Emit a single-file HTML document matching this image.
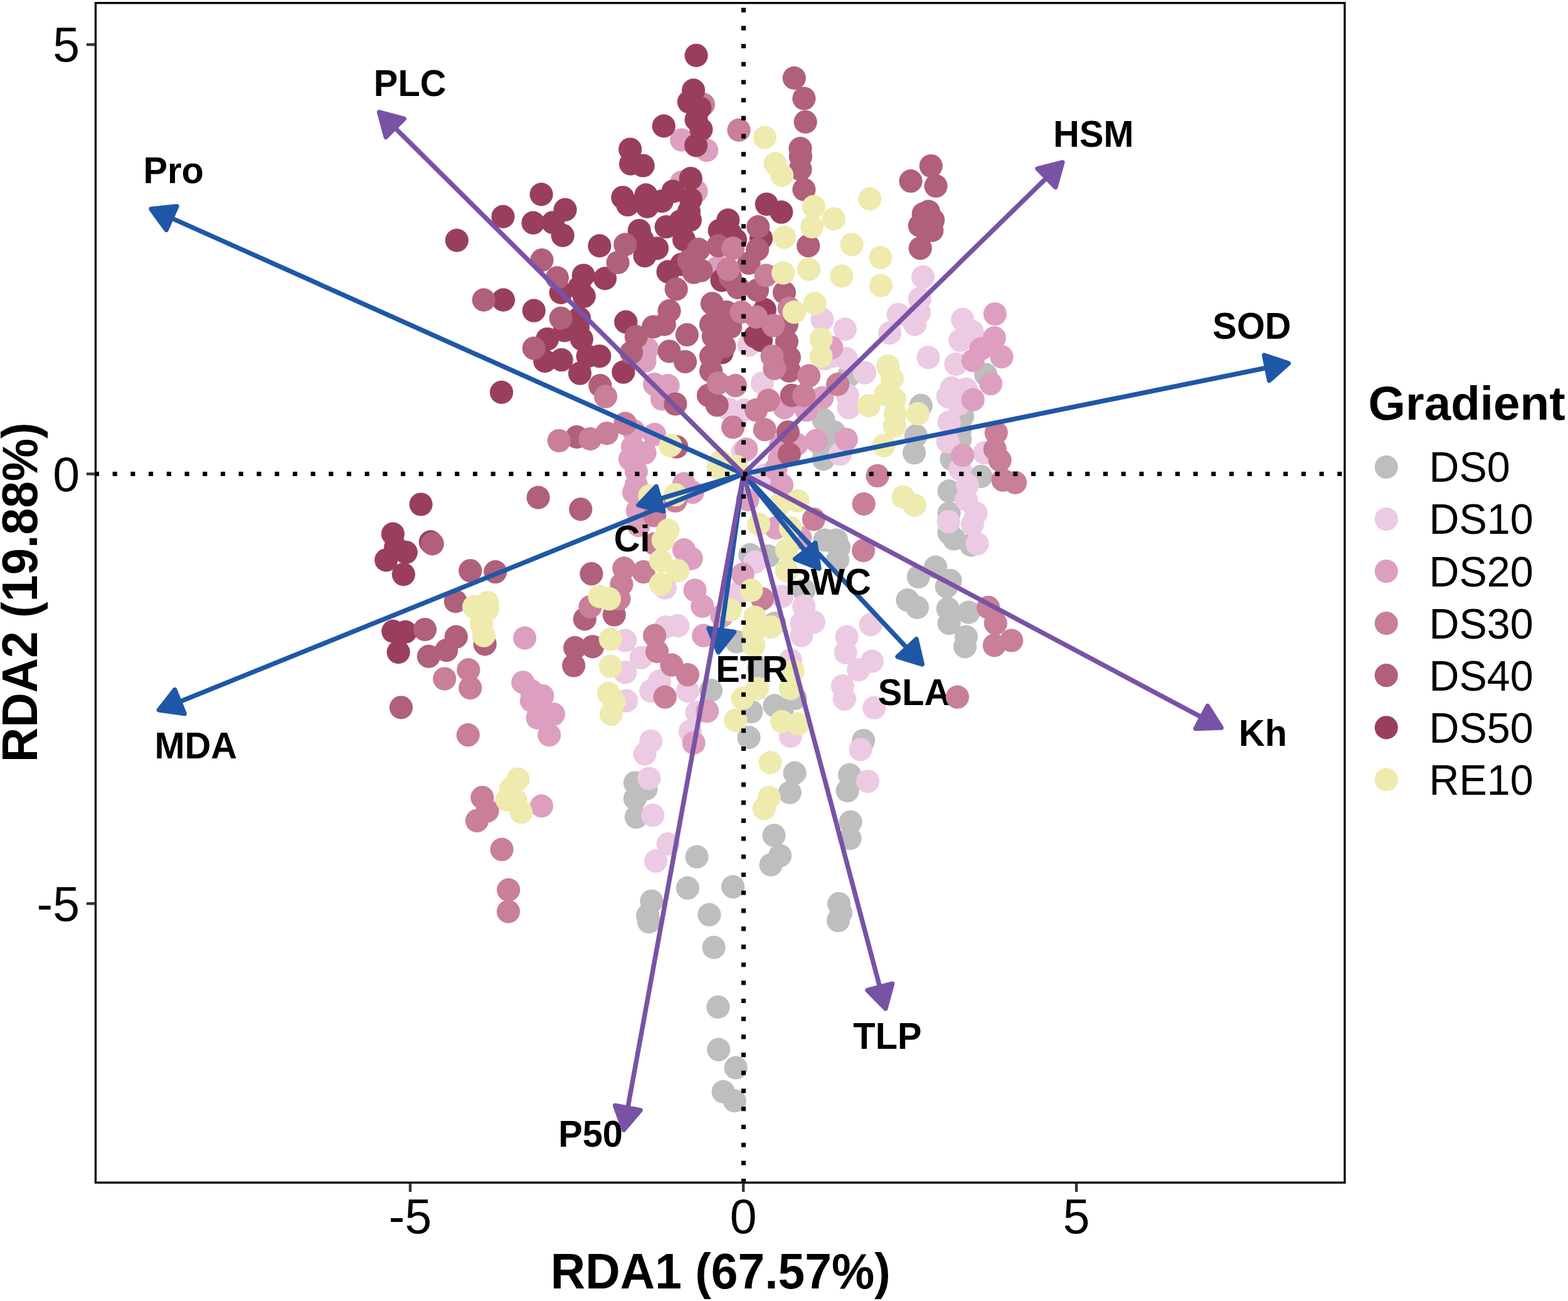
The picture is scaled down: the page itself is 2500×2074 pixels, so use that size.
<!DOCTYPE html><html><head><meta charset="utf-8"><title>RDA biplot</title><style>html,body{margin:0;padding:0;background:#fff;overflow:hidden;}svg{display:block;}text{font-family:"Liberation Sans",Arial,sans-serif;}</style></head><body>
<svg width="2500" height="2074" viewBox="0 0 2500 2074">
<rect width="2500" height="2074" fill="#fff"/>
<g>
<circle cx="1121.4" cy="166.4" r="18.6" fill="#c97e99"/>
<circle cx="1313" cy="669.3" r="18.6" fill="#bebebe"/>
<circle cx="1311" cy="712.3" r="18.6" fill="#bebebe"/>
<circle cx="1313" cy="731.8" r="18.6" fill="#bebebe"/>
<circle cx="1353.2" cy="599.1" r="18.6" fill="#bebebe"/>
<circle cx="1329.8" cy="688.8" r="18.6" fill="#bebebe"/>
<circle cx="1468.3" cy="646.3" r="18.6" fill="#bebebe"/>
<circle cx="1460.5" cy="694.7" r="18.6" fill="#bebebe"/>
<circle cx="1457.6" cy="722" r="18.6" fill="#bebebe"/>
<circle cx="1571.8" cy="597.1" r="18.6" fill="#bebebe"/>
<circle cx="1534.7" cy="663.5" r="18.6" fill="#bebebe"/>
<circle cx="1530.8" cy="684.9" r="18.6" fill="#bebebe"/>
<circle cx="1530.8" cy="700.5" r="18.6" fill="#bebebe"/>
<circle cx="1517.1" cy="731.8" r="18.6" fill="#bebebe"/>
<circle cx="1314.9" cy="861" r="18.6" fill="#bebebe"/>
<circle cx="1195.9" cy="884.4" r="18.6" fill="#bebebe"/>
<circle cx="1225.2" cy="886.4" r="18.6" fill="#bebebe"/>
<circle cx="1281.8" cy="941" r="18.6" fill="#bebebe"/>
<circle cx="1234.9" cy="993.7" r="18.6" fill="#bebebe"/>
<circle cx="1174.4" cy="1023" r="18.6" fill="#bebebe"/>
<circle cx="1209.6" cy="1064" r="18.6" fill="#bebebe"/>
<circle cx="1513.2" cy="782.9" r="18.6" fill="#bebebe"/>
<circle cx="1513.2" cy="818.1" r="18.6" fill="#bebebe"/>
<circle cx="1513.2" cy="849.3" r="18.6" fill="#bebebe"/>
<circle cx="1521" cy="859" r="18.6" fill="#bebebe"/>
<circle cx="1548.3" cy="868.8" r="18.6" fill="#bebebe"/>
<circle cx="1564" cy="759.5" r="18.6" fill="#bebebe"/>
<circle cx="1333.7" cy="861" r="18.6" fill="#bebebe"/>
<circle cx="1337.6" cy="872.7" r="18.6" fill="#bebebe"/>
<circle cx="1335.6" cy="892.2" r="18.6" fill="#bebebe"/>
<circle cx="1464.4" cy="919.5" r="18.6" fill="#bebebe"/>
<circle cx="1491.7" cy="903.9" r="18.6" fill="#bebebe"/>
<circle cx="1515.2" cy="925.4" r="18.6" fill="#bebebe"/>
<circle cx="1509.3" cy="935.2" r="18.6" fill="#bebebe"/>
<circle cx="1446.9" cy="956.6" r="18.6" fill="#bebebe"/>
<circle cx="1462.5" cy="968.3" r="18.6" fill="#bebebe"/>
<circle cx="1511.3" cy="970.3" r="18.6" fill="#bebebe"/>
<circle cx="1544.4" cy="976.1" r="18.6" fill="#bebebe"/>
<circle cx="1513.2" cy="993.7" r="18.6" fill="#bebebe"/>
<circle cx="1540.5" cy="1015.2" r="18.6" fill="#bebebe"/>
<circle cx="1538.6" cy="1030.8" r="18.6" fill="#bebebe"/>
<circle cx="1133.5" cy="1100.5" r="18.6" fill="#bebebe"/>
<circle cx="1012.5" cy="1247.8" r="18.6" fill="#bebebe"/>
<circle cx="1030" cy="1257.6" r="18.6" fill="#bebebe"/>
<circle cx="1012.5" cy="1273.2" r="18.6" fill="#bebebe"/>
<circle cx="1014.4" cy="1302.5" r="18.6" fill="#bebebe"/>
<circle cx="1111" cy="1365.9" r="18.6" fill="#bebebe"/>
<circle cx="1096.4" cy="1415.7" r="18.6" fill="#bebebe"/>
<circle cx="1168.6" cy="1413.7" r="18.6" fill="#bebebe"/>
<circle cx="1197.9" cy="1134.6" r="18.6" fill="#bebebe"/>
<circle cx="1194" cy="1175.6" r="18.6" fill="#bebebe"/>
<circle cx="1234.9" cy="1124.9" r="18.6" fill="#bebebe"/>
<circle cx="1246.6" cy="1134.6" r="18.6" fill="#bebebe"/>
<circle cx="1268.1" cy="1113.2" r="18.6" fill="#bebebe"/>
<circle cx="1267.1" cy="1232.2" r="18.6" fill="#bebebe"/>
<circle cx="1259.3" cy="1263.5" r="18.6" fill="#bebebe"/>
<circle cx="1234" cy="1331.8" r="18.6" fill="#bebebe"/>
<circle cx="1243.7" cy="1364" r="18.6" fill="#bebebe"/>
<circle cx="1229.1" cy="1378.6" r="18.6" fill="#bebebe"/>
<circle cx="1376.6" cy="1180.5" r="18.6" fill="#bebebe"/>
<circle cx="1354.7" cy="1235.2" r="18.6" fill="#bebebe"/>
<circle cx="1351.2" cy="1260.5" r="18.6" fill="#bebebe"/>
<circle cx="1356.1" cy="1310.3" r="18.6" fill="#bebebe"/>
<circle cx="1355.1" cy="1336.6" r="18.6" fill="#bebebe"/>
<circle cx="1038.9" cy="1436.5" r="18.6" fill="#bebebe"/>
<circle cx="1032.7" cy="1459.3" r="18.6" fill="#bebebe"/>
<circle cx="1034.7" cy="1469.6" r="18.6" fill="#bebebe"/>
<circle cx="1130.9" cy="1458.2" r="18.6" fill="#bebebe"/>
<circle cx="1138.1" cy="1510.3" r="18.6" fill="#bebebe"/>
<circle cx="1144.9" cy="1605.4" r="18.6" fill="#bebebe"/>
<circle cx="1145.7" cy="1673.2" r="18.6" fill="#bebebe"/>
<circle cx="1173.2" cy="1702.1" r="18.6" fill="#bebebe"/>
<circle cx="1153.2" cy="1740.4" r="18.6" fill="#bebebe"/>
<circle cx="1171.2" cy="1754.8" r="18.6" fill="#bebebe"/>
<circle cx="1337.6" cy="1440.7" r="18.6" fill="#bebebe"/>
<circle cx="1340.7" cy="1455.1" r="18.6" fill="#bebebe"/>
<circle cx="1336.5" cy="1467.5" r="18.6" fill="#bebebe"/>
<circle cx="1311" cy="509.3" r="18.6" fill="#eccae3"/>
<circle cx="1194" cy="550.3" r="18.6" fill="#eccae3"/>
<circle cx="1314.9" cy="571.7" r="18.6" fill="#eccae3"/>
<circle cx="1215.4" cy="610.8" r="18.6" fill="#eccae3"/>
<circle cx="1184.2" cy="720.1" r="18.6" fill="#eccae3"/>
<circle cx="1160.8" cy="651.8" r="18.6" fill="#eccae3"/>
<circle cx="1186.1" cy="653.7" r="18.6" fill="#eccae3"/>
<circle cx="1471.6" cy="441.6" r="18.6" fill="#eccae3"/>
<circle cx="1466.4" cy="476.1" r="18.6" fill="#eccae3"/>
<circle cx="1465.4" cy="498.6" r="18.6" fill="#eccae3"/>
<circle cx="1432.2" cy="501.5" r="18.6" fill="#eccae3"/>
<circle cx="1458.6" cy="517.1" r="18.6" fill="#eccae3"/>
<circle cx="1418.6" cy="530.8" r="18.6" fill="#eccae3"/>
<circle cx="1347.3" cy="524.9" r="18.6" fill="#eccae3"/>
<circle cx="1349.3" cy="571.7" r="18.6" fill="#eccae3"/>
<circle cx="1327.8" cy="567.8" r="18.6" fill="#eccae3"/>
<circle cx="1378.5" cy="594.2" r="18.6" fill="#eccae3"/>
<circle cx="1351.2" cy="630.3" r="18.6" fill="#eccae3"/>
<circle cx="1353.2" cy="649.8" r="18.6" fill="#eccae3"/>
<circle cx="1339.5" cy="724" r="18.6" fill="#eccae3"/>
<circle cx="1480" cy="569.8" r="18.6" fill="#eccae3"/>
<circle cx="1534.7" cy="509.3" r="18.6" fill="#eccae3"/>
<circle cx="1550.3" cy="528.8" r="18.6" fill="#eccae3"/>
<circle cx="1530.8" cy="542.5" r="18.6" fill="#eccae3"/>
<circle cx="1523.9" cy="580.5" r="18.6" fill="#eccae3"/>
<circle cx="1517.1" cy="618.6" r="18.6" fill="#eccae3"/>
<circle cx="1540.5" cy="620.5" r="18.6" fill="#eccae3"/>
<circle cx="1511.3" cy="632.2" r="18.6" fill="#eccae3"/>
<circle cx="1528.8" cy="644" r="18.6" fill="#eccae3"/>
<circle cx="1513.2" cy="673.2" r="18.6" fill="#eccae3"/>
<circle cx="1511.3" cy="704.4" r="18.6" fill="#eccae3"/>
<circle cx="1569.8" cy="722" r="18.6" fill="#eccae3"/>
<circle cx="1060.3" cy="937.1" r="18.6" fill="#eccae3"/>
<circle cx="1061.2" cy="999.6" r="18.6" fill="#eccae3"/>
<circle cx="1080.8" cy="997.6" r="18.6" fill="#eccae3"/>
<circle cx="996.8" cy="1021" r="18.6" fill="#eccae3"/>
<circle cx="1022.2" cy="1048.4" r="18.6" fill="#eccae3"/>
<circle cx="996.8" cy="1071.8" r="18.6" fill="#eccae3"/>
<circle cx="1219.3" cy="757.6" r="18.6" fill="#eccae3"/>
<circle cx="1203.7" cy="896.1" r="18.6" fill="#eccae3"/>
<circle cx="1178.3" cy="944.9" r="18.6" fill="#eccae3"/>
<circle cx="1246.6" cy="950.8" r="18.6" fill="#eccae3"/>
<circle cx="1281.8" cy="966.4" r="18.6" fill="#eccae3"/>
<circle cx="1277.9" cy="993.7" r="18.6" fill="#eccae3"/>
<circle cx="1297.4" cy="991.8" r="18.6" fill="#eccae3"/>
<circle cx="1277.9" cy="1013.2" r="18.6" fill="#eccae3"/>
<circle cx="1260.3" cy="1052.3" r="18.6" fill="#eccae3"/>
<circle cx="1530.8" cy="747.8" r="18.6" fill="#eccae3"/>
<circle cx="1542.5" cy="773.2" r="18.6" fill="#eccae3"/>
<circle cx="1540.5" cy="796.6" r="18.6" fill="#eccae3"/>
<circle cx="1556.1" cy="818.1" r="18.6" fill="#eccae3"/>
<circle cx="1512.2" cy="831.7" r="18.6" fill="#eccae3"/>
<circle cx="1550.3" cy="835.6" r="18.6" fill="#eccae3"/>
<circle cx="1558.1" cy="866.9" r="18.6" fill="#eccae3"/>
<circle cx="1388.3" cy="995.7" r="18.6" fill="#eccae3"/>
<circle cx="1350.2" cy="1015.2" r="18.6" fill="#eccae3"/>
<circle cx="1348.3" cy="1040.5" r="18.6" fill="#eccae3"/>
<circle cx="1390.3" cy="1054.2" r="18.6" fill="#eccae3"/>
<circle cx="1368.8" cy="1067.9" r="18.6" fill="#eccae3"/>
<circle cx="998.8" cy="1117.1" r="18.6" fill="#eccae3"/>
<circle cx="1037.8" cy="1101.5" r="18.6" fill="#eccae3"/>
<circle cx="1051.5" cy="1085.9" r="18.6" fill="#eccae3"/>
<circle cx="1096.4" cy="1101.5" r="18.6" fill="#eccae3"/>
<circle cx="1111" cy="1135.6" r="18.6" fill="#eccae3"/>
<circle cx="1100.3" cy="1165.9" r="18.6" fill="#eccae3"/>
<circle cx="1037.8" cy="1181.5" r="18.6" fill="#eccae3"/>
<circle cx="1028.1" cy="1202" r="18.6" fill="#eccae3"/>
<circle cx="1034.9" cy="1241" r="18.6" fill="#eccae3"/>
<circle cx="1040.7" cy="1299.6" r="18.6" fill="#eccae3"/>
<circle cx="1065.1" cy="1345.4" r="18.6" fill="#eccae3"/>
<circle cx="1045.6" cy="1372.7" r="18.6" fill="#eccae3"/>
<circle cx="1260.3" cy="1173.7" r="18.6" fill="#eccae3"/>
<circle cx="1343.4" cy="1093.7" r="18.6" fill="#eccae3"/>
<circle cx="1346.3" cy="1114.2" r="18.6" fill="#eccae3"/>
<circle cx="1393.8" cy="1128.4" r="18.6" fill="#eccae3"/>
<circle cx="1372.1" cy="1194.8" r="18.6" fill="#eccae3"/>
<circle cx="1383.6" cy="1245.5" r="18.6" fill="#eccae3"/>
<circle cx="1086.7" cy="223" r="18.6" fill="#dd9fbf"/>
<circle cx="1126.7" cy="239.6" r="18.6" fill="#dd9fbf"/>
<circle cx="1086.7" cy="290.4" r="18.6" fill="#dd9fbf"/>
<circle cx="1110.1" cy="305" r="18.6" fill="#dd9fbf"/>
<circle cx="1145.2" cy="425.4" r="18.6" fill="#dd9fbf"/>
<circle cx="1250.5" cy="649.8" r="18.6" fill="#dd9fbf"/>
<circle cx="1285.7" cy="653.7" r="18.6" fill="#dd9fbf"/>
<circle cx="1311" cy="634.2" r="18.6" fill="#dd9fbf"/>
<circle cx="1301.3" cy="702.5" r="18.6" fill="#dd9fbf"/>
<circle cx="1244.7" cy="710.3" r="18.6" fill="#dd9fbf"/>
<circle cx="1242.7" cy="731.8" r="18.6" fill="#dd9fbf"/>
<circle cx="1270.1" cy="708.4" r="18.6" fill="#dd9fbf"/>
<circle cx="1190" cy="716.2" r="18.6" fill="#dd9fbf"/>
<circle cx="1032" cy="556.1" r="18.6" fill="#dd9fbf"/>
<circle cx="1028.1" cy="575.6" r="18.6" fill="#dd9fbf"/>
<circle cx="1043.7" cy="612.7" r="18.6" fill="#dd9fbf"/>
<circle cx="1065.1" cy="614.7" r="18.6" fill="#dd9fbf"/>
<circle cx="1055.4" cy="636.1" r="18.6" fill="#dd9fbf"/>
<circle cx="1010.5" cy="686.9" r="18.6" fill="#dd9fbf"/>
<circle cx="1043.7" cy="692.7" r="18.6" fill="#dd9fbf"/>
<circle cx="1008.5" cy="712.3" r="18.6" fill="#dd9fbf"/>
<circle cx="1028.1" cy="722" r="18.6" fill="#dd9fbf"/>
<circle cx="1004.6" cy="731.8" r="18.6" fill="#dd9fbf"/>
<circle cx="1325.9" cy="554.2" r="18.6" fill="#dd9fbf"/>
<circle cx="1349.3" cy="700.5" r="18.6" fill="#dd9fbf"/>
<circle cx="1586.4" cy="500.5" r="18.6" fill="#dd9fbf"/>
<circle cx="1585.4" cy="538.6" r="18.6" fill="#dd9fbf"/>
<circle cx="1564" cy="556.1" r="18.6" fill="#dd9fbf"/>
<circle cx="1597.1" cy="568.8" r="18.6" fill="#dd9fbf"/>
<circle cx="1551.3" cy="574.7" r="18.6" fill="#dd9fbf"/>
<circle cx="1579.6" cy="611.7" r="18.6" fill="#dd9fbf"/>
<circle cx="1551.3" cy="637.1" r="18.6" fill="#dd9fbf"/>
<circle cx="1534.7" cy="725.9" r="18.6" fill="#dd9fbf"/>
<circle cx="836.6" cy="1017.1" r="18.6" fill="#dd9fbf"/>
<circle cx="1014.4" cy="751.7" r="18.6" fill="#dd9fbf"/>
<circle cx="1014.4" cy="773.2" r="18.6" fill="#dd9fbf"/>
<circle cx="1010.5" cy="784.9" r="18.6" fill="#dd9fbf"/>
<circle cx="1016.4" cy="814.2" r="18.6" fill="#dd9fbf"/>
<circle cx="1018.3" cy="837.6" r="18.6" fill="#dd9fbf"/>
<circle cx="1090.5" cy="771.2" r="18.6" fill="#dd9fbf"/>
<circle cx="1104.2" cy="784.9" r="18.6" fill="#dd9fbf"/>
<circle cx="1090.5" cy="876.6" r="18.6" fill="#dd9fbf"/>
<circle cx="1102.2" cy="890.3" r="18.6" fill="#dd9fbf"/>
<circle cx="1108.1" cy="941" r="18.6" fill="#dd9fbf"/>
<circle cx="1119.8" cy="966.4" r="18.6" fill="#dd9fbf"/>
<circle cx="1151" cy="982" r="18.6" fill="#dd9fbf"/>
<circle cx="1121.7" cy="1013.2" r="18.6" fill="#dd9fbf"/>
<circle cx="1236.9" cy="747.8" r="18.6" fill="#dd9fbf"/>
<circle cx="1246.6" cy="773.2" r="18.6" fill="#dd9fbf"/>
<circle cx="1192" cy="796.6" r="18.6" fill="#dd9fbf"/>
<circle cx="1236.9" cy="841.5" r="18.6" fill="#dd9fbf"/>
<circle cx="1275.9" cy="857.1" r="18.6" fill="#dd9fbf"/>
<circle cx="1184.2" cy="915.6" r="18.6" fill="#dd9fbf"/>
<circle cx="833.7" cy="1087.8" r="18.6" fill="#dd9fbf"/>
<circle cx="847.4" cy="1101.5" r="18.6" fill="#dd9fbf"/>
<circle cx="864.9" cy="1109.3" r="18.6" fill="#dd9fbf"/>
<circle cx="847.4" cy="1117.1" r="18.6" fill="#dd9fbf"/>
<circle cx="857.1" cy="1144.4" r="18.6" fill="#dd9fbf"/>
<circle cx="882.5" cy="1138.5" r="18.6" fill="#dd9fbf"/>
<circle cx="875.7" cy="1171.7" r="18.6" fill="#dd9fbf"/>
<circle cx="863.4" cy="1284.9" r="18.6" fill="#dd9fbf"/>
<circle cx="1127.6" cy="1133.7" r="18.6" fill="#dd9fbf"/>
<circle cx="1106.1" cy="1184.4" r="18.6" fill="#dd9fbf"/>
<circle cx="863.1" cy="309.9" r="18.6" fill="#993f5d"/>
<circle cx="901.1" cy="334.3" r="18.6" fill="#993f5d"/>
<circle cx="802" cy="345.4" r="18.6" fill="#993f5d"/>
<circle cx="850" cy="355.2" r="18.6" fill="#993f5d"/>
<circle cx="881.6" cy="354.8" r="18.6" fill="#993f5d"/>
<circle cx="897.2" cy="375.3" r="18.6" fill="#993f5d"/>
<circle cx="728.4" cy="383.1" r="18.6" fill="#993f5d"/>
<circle cx="1110.1" cy="88.3" r="18.6" fill="#993f5d"/>
<circle cx="1105.6" cy="143.9" r="18.6" fill="#993f5d"/>
<circle cx="1098.4" cy="162.5" r="18.6" fill="#993f5d"/>
<circle cx="1115.9" cy="172.2" r="18.6" fill="#993f5d"/>
<circle cx="1110.1" cy="190.8" r="18.6" fill="#993f5d"/>
<circle cx="1117.9" cy="206.4" r="18.6" fill="#993f5d"/>
<circle cx="1109.7" cy="231.8" r="18.6" fill="#993f5d"/>
<circle cx="1058.3" cy="200.9" r="18.6" fill="#993f5d"/>
<circle cx="1004.7" cy="238" r="18.6" fill="#993f5d"/>
<circle cx="1005.6" cy="261.1" r="18.6" fill="#993f5d"/>
<circle cx="1025.2" cy="264" r="18.6" fill="#993f5d"/>
<circle cx="1101.3" cy="284.5" r="18.6" fill="#993f5d"/>
<circle cx="1073" cy="305" r="18.6" fill="#993f5d"/>
<circle cx="1101.3" cy="317.7" r="18.6" fill="#993f5d"/>
<circle cx="992.9" cy="314.8" r="18.6" fill="#993f5d"/>
<circle cx="1000.8" cy="326.5" r="18.6" fill="#993f5d"/>
<circle cx="1030" cy="310.9" r="18.6" fill="#993f5d"/>
<circle cx="1032" cy="329.4" r="18.6" fill="#993f5d"/>
<circle cx="1055.4" cy="320.6" r="18.6" fill="#993f5d"/>
<circle cx="1098.4" cy="337.2" r="18.6" fill="#993f5d"/>
<circle cx="1100.3" cy="350.9" r="18.6" fill="#993f5d"/>
<circle cx="1062.2" cy="361.6" r="18.6" fill="#993f5d"/>
<circle cx="1084.7" cy="352.8" r="18.6" fill="#993f5d"/>
<circle cx="1019.3" cy="367.5" r="18.6" fill="#993f5d"/>
<circle cx="1024.2" cy="382.1" r="18.6" fill="#993f5d"/>
<circle cx="1047.6" cy="395.8" r="18.6" fill="#993f5d"/>
<circle cx="1090.6" cy="382.1" r="18.6" fill="#993f5d"/>
<circle cx="1160.8" cy="350.9" r="18.6" fill="#993f5d"/>
<circle cx="1147.2" cy="367.5" r="18.6" fill="#993f5d"/>
<circle cx="1164.7" cy="372.3" r="18.6" fill="#993f5d"/>
<circle cx="1172.5" cy="382.1" r="18.6" fill="#993f5d"/>
<circle cx="1222.3" cy="325.5" r="18.6" fill="#993f5d"/>
<circle cx="1245.8" cy="338.2" r="18.6" fill="#993f5d"/>
<circle cx="1213.5" cy="380.2" r="18.6" fill="#993f5d"/>
<circle cx="955.9" cy="391.9" r="18.6" fill="#993f5d"/>
<circle cx="894.2" cy="466.4" r="18.6" fill="#993f5d"/>
<circle cx="930.3" cy="439" r="18.6" fill="#993f5d"/>
<circle cx="802.5" cy="478.1" r="18.6" fill="#993f5d"/>
<circle cx="851.3" cy="495.2" r="18.6" fill="#993f5d"/>
<circle cx="923.5" cy="458.5" r="18.6" fill="#993f5d"/>
<circle cx="931.3" cy="472.2" r="18.6" fill="#993f5d"/>
<circle cx="923.5" cy="507.3" r="18.6" fill="#993f5d"/>
<circle cx="921.5" cy="521" r="18.6" fill="#993f5d"/>
<circle cx="900.1" cy="526.9" r="18.6" fill="#993f5d"/>
<circle cx="872.7" cy="540.5" r="18.6" fill="#993f5d"/>
<circle cx="868.8" cy="575.6" r="18.6" fill="#993f5d"/>
<circle cx="895.2" cy="573.7" r="18.6" fill="#993f5d"/>
<circle cx="927.4" cy="540.5" r="18.6" fill="#993f5d"/>
<circle cx="937.1" cy="567.8" r="18.6" fill="#993f5d"/>
<circle cx="924.5" cy="595.2" r="18.6" fill="#993f5d"/>
<circle cx="799.6" cy="625.4" r="18.6" fill="#993f5d"/>
<circle cx="964.6" cy="443.9" r="18.6" fill="#993f5d"/>
<circle cx="1028.1" cy="407.8" r="18.6" fill="#993f5d"/>
<circle cx="1065.1" cy="433.2" r="18.6" fill="#993f5d"/>
<circle cx="1086.6" cy="421.5" r="18.6" fill="#993f5d"/>
<circle cx="1151" cy="446.8" r="18.6" fill="#993f5d"/>
<circle cx="1219.3" cy="493.7" r="18.6" fill="#993f5d"/>
<circle cx="1213.5" cy="542.5" r="18.6" fill="#993f5d"/>
<circle cx="1203.7" cy="536.6" r="18.6" fill="#993f5d"/>
<circle cx="1151" cy="562" r="18.6" fill="#993f5d"/>
<circle cx="997.8" cy="513.2" r="18.6" fill="#993f5d"/>
<circle cx="993.9" cy="593.2" r="18.6" fill="#993f5d"/>
<circle cx="955.9" cy="567.8" r="18.6" fill="#993f5d"/>
<circle cx="671.1" cy="804" r="18.6" fill="#993f5d"/>
<circle cx="626.4" cy="851.2" r="18.6" fill="#993f5d"/>
<circle cx="630.7" cy="872.7" r="18.6" fill="#993f5d"/>
<circle cx="647.3" cy="880.5" r="18.6" fill="#993f5d"/>
<circle cx="615.7" cy="892.8" r="18.6" fill="#993f5d"/>
<circle cx="643.4" cy="915.6" r="18.6" fill="#993f5d"/>
<circle cx="686.4" cy="863.9" r="18.6" fill="#993f5d"/>
<circle cx="626.8" cy="1006.4" r="18.6" fill="#993f5d"/>
<circle cx="646.4" cy="1007.4" r="18.6" fill="#993f5d"/>
<circle cx="635.2" cy="1039.6" r="18.6" fill="#993f5d"/>
<circle cx="1266.3" cy="124.4" r="18.6" fill="#b0607a"/>
<circle cx="1281.9" cy="157" r="18.6" fill="#b0607a"/>
<circle cx="1284.2" cy="194.3" r="18.6" fill="#b0607a"/>
<circle cx="1276" cy="236.7" r="18.6" fill="#b0607a"/>
<circle cx="1276.4" cy="249.4" r="18.6" fill="#b0607a"/>
<circle cx="1276" cy="269.9" r="18.6" fill="#b0607a"/>
<circle cx="1281.9" cy="302.1" r="18.6" fill="#b0607a"/>
<circle cx="1208.7" cy="361.6" r="18.6" fill="#b0607a"/>
<circle cx="1207.7" cy="397.7" r="18.6" fill="#b0607a"/>
<circle cx="1288.7" cy="391.9" r="18.6" fill="#b0607a"/>
<circle cx="996.9" cy="389.9" r="18.6" fill="#b0607a"/>
<circle cx="1145.2" cy="391.9" r="18.6" fill="#b0607a"/>
<circle cx="1114" cy="397.7" r="18.6" fill="#b0607a"/>
<circle cx="1484.3" cy="264.5" r="18.6" fill="#b0607a"/>
<circle cx="1452.1" cy="288.7" r="18.6" fill="#b0607a"/>
<circle cx="1492.1" cy="296.5" r="18.6" fill="#b0607a"/>
<circle cx="1480.4" cy="337.1" r="18.6" fill="#b0607a"/>
<circle cx="1472.2" cy="341" r="18.6" fill="#b0607a"/>
<circle cx="1487.8" cy="350.8" r="18.6" fill="#b0607a"/>
<circle cx="1466.4" cy="359.6" r="18.6" fill="#b0607a"/>
<circle cx="1485.9" cy="367.4" r="18.6" fill="#b0607a"/>
<circle cx="1467.3" cy="395.7" r="18.6" fill="#b0607a"/>
<circle cx="864" cy="414.6" r="18.6" fill="#b0607a"/>
<circle cx="888.4" cy="442.9" r="18.6" fill="#b0607a"/>
<circle cx="771.3" cy="478.1" r="18.6" fill="#b0607a"/>
<circle cx="894.2" cy="507.3" r="18.6" fill="#b0607a"/>
<circle cx="851.3" cy="555.2" r="18.6" fill="#b0607a"/>
<circle cx="919.6" cy="696.6" r="18.6" fill="#b0607a"/>
<circle cx="985.1" cy="418.5" r="18.6" fill="#b0607a"/>
<circle cx="1106.1" cy="434.2" r="18.6" fill="#b0607a"/>
<circle cx="1117.8" cy="431.2" r="18.6" fill="#b0607a"/>
<circle cx="1098.3" cy="415.6" r="18.6" fill="#b0607a"/>
<circle cx="1078.2" cy="460.9" r="18.6" fill="#b0607a"/>
<circle cx="1164.7" cy="442.9" r="18.6" fill="#b0607a"/>
<circle cx="1194" cy="419.5" r="18.6" fill="#b0607a"/>
<circle cx="1176.4" cy="458.5" r="18.6" fill="#b0607a"/>
<circle cx="1207.6" cy="462.5" r="18.6" fill="#b0607a"/>
<circle cx="1250.5" cy="466.4" r="18.6" fill="#b0607a"/>
<circle cx="1254.4" cy="517.1" r="18.6" fill="#b0607a"/>
<circle cx="1254.4" cy="544.4" r="18.6" fill="#b0607a"/>
<circle cx="1258.4" cy="569.8" r="18.6" fill="#b0607a"/>
<circle cx="1258.4" cy="591.3" r="18.6" fill="#b0607a"/>
<circle cx="1262.3" cy="630.3" r="18.6" fill="#b0607a"/>
<circle cx="1256.4" cy="688.8" r="18.6" fill="#b0607a"/>
<circle cx="1258.4" cy="724" r="18.6" fill="#b0607a"/>
<circle cx="1129.5" cy="630.3" r="18.6" fill="#b0607a"/>
<circle cx="1143.2" cy="645.9" r="18.6" fill="#b0607a"/>
<circle cx="1135.4" cy="483.9" r="18.6" fill="#b0607a"/>
<circle cx="1158.8" cy="497.6" r="18.6" fill="#b0607a"/>
<circle cx="1133.5" cy="517.1" r="18.6" fill="#b0607a"/>
<circle cx="1164.7" cy="521" r="18.6" fill="#b0607a"/>
<circle cx="1137.4" cy="536.6" r="18.6" fill="#b0607a"/>
<circle cx="1154.9" cy="552.2" r="18.6" fill="#b0607a"/>
<circle cx="1133.5" cy="567.8" r="18.6" fill="#b0607a"/>
<circle cx="1133.5" cy="591.3" r="18.6" fill="#b0607a"/>
<circle cx="1067.1" cy="495.6" r="18.6" fill="#b0607a"/>
<circle cx="1059.3" cy="517.1" r="18.6" fill="#b0607a"/>
<circle cx="1041.7" cy="521" r="18.6" fill="#b0607a"/>
<circle cx="1095.4" cy="533.7" r="18.6" fill="#b0607a"/>
<circle cx="1014.4" cy="536.6" r="18.6" fill="#b0607a"/>
<circle cx="1006.6" cy="562" r="18.6" fill="#b0607a"/>
<circle cx="1067.1" cy="560" r="18.6" fill="#b0607a"/>
<circle cx="1092.5" cy="576.6" r="18.6" fill="#b0607a"/>
<circle cx="956.8" cy="614.7" r="18.6" fill="#b0607a"/>
<circle cx="1076.9" cy="644" r="18.6" fill="#b0607a"/>
<circle cx="1078.8" cy="712.3" r="18.6" fill="#b0607a"/>
<circle cx="858.1" cy="793.1" r="18.6" fill="#b0607a"/>
<circle cx="925.8" cy="811.8" r="18.6" fill="#b0607a"/>
<circle cx="689.3" cy="866.9" r="18.6" fill="#b0607a"/>
<circle cx="749.8" cy="909.8" r="18.6" fill="#b0607a"/>
<circle cx="789.8" cy="911.7" r="18.6" fill="#b0607a"/>
<circle cx="943" cy="914.7" r="18.6" fill="#b0607a"/>
<circle cx="726.4" cy="958.6" r="18.6" fill="#b0607a"/>
<circle cx="773.2" cy="1026.9" r="18.6" fill="#b0607a"/>
<circle cx="677.6" cy="1003.5" r="18.6" fill="#b0607a"/>
<circle cx="727.3" cy="1015.2" r="18.6" fill="#b0607a"/>
<circle cx="711.7" cy="1036.6" r="18.6" fill="#b0607a"/>
<circle cx="683.4" cy="1046.4" r="18.6" fill="#b0607a"/>
<circle cx="932.3" cy="986.9" r="18.6" fill="#b0607a"/>
<circle cx="916.7" cy="1032.7" r="18.6" fill="#b0607a"/>
<circle cx="914.7" cy="1061" r="18.6" fill="#b0607a"/>
<circle cx="944.9" cy="1030.8" r="18.6" fill="#b0607a"/>
<circle cx="979.3" cy="980" r="18.6" fill="#b0607a"/>
<circle cx="639.5" cy="1127.8" r="18.6" fill="#b0607a"/>
<circle cx="1178" cy="207.4" r="18.6" fill="#c97e99"/>
<circle cx="1168.6" cy="395.8" r="18.6" fill="#c97e99"/>
<circle cx="891.3" cy="702.5" r="18.6" fill="#c97e99"/>
<circle cx="941" cy="699.6" r="18.6" fill="#c97e99"/>
<circle cx="1160.8" cy="429.3" r="18.6" fill="#c97e99"/>
<circle cx="1221.3" cy="439" r="18.6" fill="#c97e99"/>
<circle cx="1258.4" cy="491.7" r="18.6" fill="#c97e99"/>
<circle cx="1182.2" cy="497.6" r="18.6" fill="#c97e99"/>
<circle cx="1205.7" cy="505.4" r="18.6" fill="#c97e99"/>
<circle cx="1233" cy="519" r="18.6" fill="#c97e99"/>
<circle cx="1231" cy="567.8" r="18.6" fill="#c97e99"/>
<circle cx="1234.9" cy="587.4" r="18.6" fill="#c97e99"/>
<circle cx="1289.6" cy="599.1" r="18.6" fill="#c97e99"/>
<circle cx="1281.8" cy="630.3" r="18.6" fill="#c97e99"/>
<circle cx="1225.2" cy="638.1" r="18.6" fill="#c97e99"/>
<circle cx="1205.7" cy="653.7" r="18.6" fill="#c97e99"/>
<circle cx="1219.3" cy="684.9" r="18.6" fill="#c97e99"/>
<circle cx="1168.6" cy="681" r="18.6" fill="#c97e99"/>
<circle cx="1172.5" cy="614.7" r="18.6" fill="#c97e99"/>
<circle cx="1145.2" cy="610.8" r="18.6" fill="#c97e99"/>
<circle cx="965.6" cy="632.2" r="18.6" fill="#c97e99"/>
<circle cx="996.8" cy="675.2" r="18.6" fill="#c97e99"/>
<circle cx="967.6" cy="690.8" r="18.6" fill="#c97e99"/>
<circle cx="1335.6" cy="612.7" r="18.6" fill="#c97e99"/>
<circle cx="1588.3" cy="689.8" r="18.6" fill="#c97e99"/>
<circle cx="1586.4" cy="716.2" r="18.6" fill="#c97e99"/>
<circle cx="1594.2" cy="733.7" r="18.6" fill="#c97e99"/>
<circle cx="746.9" cy="1067.9" r="18.6" fill="#c97e99"/>
<circle cx="941" cy="967.4" r="18.6" fill="#c97e99"/>
<circle cx="1076.9" cy="798.5" r="18.6" fill="#c97e99"/>
<circle cx="1043.7" cy="822" r="18.6" fill="#c97e99"/>
<circle cx="1043.7" cy="866.9" r="18.6" fill="#c97e99"/>
<circle cx="994.9" cy="905.9" r="18.6" fill="#c97e99"/>
<circle cx="1026.1" cy="911.7" r="18.6" fill="#c97e99"/>
<circle cx="991" cy="931.3" r="18.6" fill="#c97e99"/>
<circle cx="987.1" cy="954.7" r="18.6" fill="#c97e99"/>
<circle cx="1043.7" cy="1013.2" r="18.6" fill="#c97e99"/>
<circle cx="1047.6" cy="1038.6" r="18.6" fill="#c97e99"/>
<circle cx="1071" cy="1060.1" r="18.6" fill="#c97e99"/>
<circle cx="1096.4" cy="1075.7" r="18.6" fill="#c97e99"/>
<circle cx="1297.4" cy="827.8" r="18.6" fill="#c97e99"/>
<circle cx="1215.4" cy="954.7" r="18.6" fill="#c97e99"/>
<circle cx="1399" cy="758.5" r="18.6" fill="#c97e99"/>
<circle cx="1377.2" cy="803.4" r="18.6" fill="#c97e99"/>
<circle cx="1599.1" cy="765.4" r="18.6" fill="#c97e99"/>
<circle cx="1618.6" cy="769.3" r="18.6" fill="#c97e99"/>
<circle cx="1376.6" cy="877.6" r="18.6" fill="#c97e99"/>
<circle cx="1575.7" cy="968.3" r="18.6" fill="#c97e99"/>
<circle cx="1587.4" cy="993.7" r="18.6" fill="#c97e99"/>
<circle cx="1585.4" cy="1028.8" r="18.6" fill="#c97e99"/>
<circle cx="1612.7" cy="1021" r="18.6" fill="#c97e99"/>
<circle cx="708.8" cy="1082" r="18.6" fill="#c97e99"/>
<circle cx="749.8" cy="1096.6" r="18.6" fill="#c97e99"/>
<circle cx="746.3" cy="1171.7" r="18.6" fill="#c97e99"/>
<circle cx="768.9" cy="1271.3" r="18.6" fill="#c97e99"/>
<circle cx="777.1" cy="1292.7" r="18.6" fill="#c97e99"/>
<circle cx="760.5" cy="1308.3" r="18.6" fill="#c97e99"/>
<circle cx="800.1" cy="1354.2" r="18.6" fill="#c97e99"/>
<circle cx="810.7" cy="1418.6" r="18.6" fill="#c97e99"/>
<circle cx="1060.3" cy="1111.2" r="18.6" fill="#c97e99"/>
<circle cx="810.5" cy="1453.1" r="18.6" fill="#c97e99"/>
<circle cx="1219.4" cy="219.1" r="18.6" fill="#efeaae"/>
<circle cx="1236" cy="261.1" r="18.6" fill="#efeaae"/>
<circle cx="1246.7" cy="279.6" r="18.6" fill="#efeaae"/>
<circle cx="1250.6" cy="378.2" r="18.6" fill="#efeaae"/>
<circle cx="1297.5" cy="329.4" r="18.6" fill="#efeaae"/>
<circle cx="1294.6" cy="361.6" r="18.6" fill="#efeaae"/>
<circle cx="1386.7" cy="317.2" r="18.6" fill="#efeaae"/>
<circle cx="1329.4" cy="348.8" r="18.6" fill="#efeaae"/>
<circle cx="1358.1" cy="389.8" r="18.6" fill="#efeaae"/>
<circle cx="1248.6" cy="435.1" r="18.6" fill="#efeaae"/>
<circle cx="1289.6" cy="429.3" r="18.6" fill="#efeaae"/>
<circle cx="1266.2" cy="497.6" r="18.6" fill="#efeaae"/>
<circle cx="1299.3" cy="483.9" r="18.6" fill="#efeaae"/>
<circle cx="1309.1" cy="540.5" r="18.6" fill="#efeaae"/>
<circle cx="1309.1" cy="567.8" r="18.6" fill="#efeaae"/>
<circle cx="1069" cy="710.3" r="18.6" fill="#efeaae"/>
<circle cx="1149.1" cy="735.7" r="18.6" fill="#efeaae"/>
<circle cx="1403.9" cy="410.7" r="18.6" fill="#efeaae"/>
<circle cx="1341.9" cy="440" r="18.6" fill="#efeaae"/>
<circle cx="1404.5" cy="455.2" r="18.6" fill="#efeaae"/>
<circle cx="1415.6" cy="583.5" r="18.6" fill="#efeaae"/>
<circle cx="1422.5" cy="603.9" r="18.6" fill="#efeaae"/>
<circle cx="1411.7" cy="628.3" r="18.6" fill="#efeaae"/>
<circle cx="1426.4" cy="636.1" r="18.6" fill="#efeaae"/>
<circle cx="1385.4" cy="646.9" r="18.6" fill="#efeaae"/>
<circle cx="1427.3" cy="659.6" r="18.6" fill="#efeaae"/>
<circle cx="1426.4" cy="679.1" r="18.6" fill="#efeaae"/>
<circle cx="1463.4" cy="659.6" r="18.6" fill="#efeaae"/>
<circle cx="1408.8" cy="710.3" r="18.6" fill="#efeaae"/>
<circle cx="755.6" cy="967.4" r="18.6" fill="#efeaae"/>
<circle cx="777.1" cy="960.5" r="18.6" fill="#efeaae"/>
<circle cx="777.1" cy="972.2" r="18.6" fill="#efeaae"/>
<circle cx="767.4" cy="993.7" r="18.6" fill="#efeaae"/>
<circle cx="771.3" cy="1013.2" r="18.6" fill="#efeaae"/>
<circle cx="1035.9" cy="790.7" r="18.6" fill="#efeaae"/>
<circle cx="1076.9" cy="788.8" r="18.6" fill="#efeaae"/>
<circle cx="1065.1" cy="845.4" r="18.6" fill="#efeaae"/>
<circle cx="1057.3" cy="861" r="18.6" fill="#efeaae"/>
<circle cx="1053.4" cy="894.2" r="18.6" fill="#efeaae"/>
<circle cx="1080.8" cy="909.8" r="18.6" fill="#efeaae"/>
<circle cx="1053.4" cy="931.3" r="18.6" fill="#efeaae"/>
<circle cx="971.5" cy="954.7" r="18.6" fill="#efeaae"/>
<circle cx="955.9" cy="950.8" r="18.6" fill="#efeaae"/>
<circle cx="973.4" cy="1019.1" r="18.6" fill="#efeaae"/>
<circle cx="973.4" cy="1062" r="18.6" fill="#efeaae"/>
<circle cx="1145.2" cy="745.9" r="18.6" fill="#efeaae"/>
<circle cx="1174.4" cy="743.9" r="18.6" fill="#efeaae"/>
<circle cx="1272" cy="798.5" r="18.6" fill="#efeaae"/>
<circle cx="1242.7" cy="804.4" r="18.6" fill="#efeaae"/>
<circle cx="1209.6" cy="835.6" r="18.6" fill="#efeaae"/>
<circle cx="1260.3" cy="841.5" r="18.6" fill="#efeaae"/>
<circle cx="1254.4" cy="876.6" r="18.6" fill="#efeaae"/>
<circle cx="1254.4" cy="909.8" r="18.6" fill="#efeaae"/>
<circle cx="1197.9" cy="941" r="18.6" fill="#efeaae"/>
<circle cx="1164.7" cy="972.2" r="18.6" fill="#efeaae"/>
<circle cx="1203.7" cy="984" r="18.6" fill="#efeaae"/>
<circle cx="1229.1" cy="999.6" r="18.6" fill="#efeaae"/>
<circle cx="1201.8" cy="1007.4" r="18.6" fill="#efeaae"/>
<circle cx="1201.8" cy="1028.8" r="18.6" fill="#efeaae"/>
<circle cx="1264.2" cy="1069.8" r="18.6" fill="#efeaae"/>
<circle cx="1440" cy="792.3" r="18.6" fill="#efeaae"/>
<circle cx="1458.2" cy="805.4" r="18.6" fill="#efeaae"/>
<circle cx="825.9" cy="1242" r="18.6" fill="#efeaae"/>
<circle cx="814.2" cy="1257.6" r="18.6" fill="#efeaae"/>
<circle cx="808.3" cy="1275.2" r="18.6" fill="#efeaae"/>
<circle cx="822" cy="1275.2" r="18.6" fill="#efeaae"/>
<circle cx="830.8" cy="1294.7" r="18.6" fill="#efeaae"/>
<circle cx="970.5" cy="1105.4" r="18.6" fill="#efeaae"/>
<circle cx="979.3" cy="1119" r="18.6" fill="#efeaae"/>
<circle cx="974.4" cy="1138.5" r="18.6" fill="#efeaae"/>
<circle cx="1172.5" cy="1148.3" r="18.6" fill="#efeaae"/>
<circle cx="1184.2" cy="1113.2" r="18.6" fill="#efeaae"/>
<circle cx="1207.6" cy="1097.6" r="18.6" fill="#efeaae"/>
<circle cx="1260.3" cy="1097.6" r="18.6" fill="#efeaae"/>
<circle cx="1272" cy="1154.2" r="18.6" fill="#efeaae"/>
<circle cx="1246.6" cy="1150.3" r="18.6" fill="#efeaae"/>
<circle cx="1228.1" cy="1215.6" r="18.6" fill="#efeaae"/>
<circle cx="1226.2" cy="1271.3" r="18.6" fill="#efeaae"/>
<circle cx="1218.3" cy="1288.8" r="18.6" fill="#efeaae"/>
</g>
<line x1="1185.5" y1="755.5" x2="241" y2="333.2" stroke="#1f57a7" stroke-width="7.5"/>
<line x1="1185.5" y1="755.5" x2="2054.4" y2="579.3" stroke="#1f57a7" stroke-width="7.5"/>
<line x1="1185.5" y1="755.5" x2="1470.3" y2="1058.8" stroke="#1f57a7" stroke-width="7.5"/>
<line x1="1185.5" y1="755.5" x2="1306" y2="906.2" stroke="#1f57a7" stroke-width="7.5"/>
<line x1="1185.5" y1="755.5" x2="1145.3" y2="1039.7" stroke="#1f57a7" stroke-width="7.5"/>
<line x1="1185.5" y1="755.5" x2="253.5" y2="1131.9" stroke="#1f57a7" stroke-width="7.5"/>
<line x1="1185.5" y1="755.5" x2="1018" y2="805.4" stroke="#1f57a7" stroke-width="7.5"/>
<polygon points="241,333.2 265.1,366.4 281.8,329" fill="#1f57a7" stroke="#1f57a7" stroke-width="7.5" stroke-linejoin="round"/>
<polygon points="2054.4,579.3 2015.6,566.3 2023.7,606.5" fill="#1f57a7" stroke="#1f57a7" stroke-width="7.5" stroke-linejoin="round"/>
<polygon points="1470.3,1058.8 1461,1018.9 1431.1,1046.9" fill="#1f57a7" stroke="#1f57a7" stroke-width="7.5" stroke-linejoin="round"/>
<polygon points="1306,906.2 1299.8,865.6 1267.8,891.2" fill="#1f57a7" stroke="#1f57a7" stroke-width="7.5" stroke-linejoin="round"/>
<polygon points="1145.3,1039.7 1170.6,1007.4 1130,1001.7" fill="#1f57a7" stroke="#1f57a7" stroke-width="7.5" stroke-linejoin="round"/>
<polygon points="253.5,1131.9 294.1,1137.6 278.7,1099.6" fill="#1f57a7" stroke="#1f57a7" stroke-width="7.5" stroke-linejoin="round"/>
<polygon points="1018,805.4 1057.9,814.9 1046.2,775.6" fill="#1f57a7" stroke="#1f57a7" stroke-width="7.5" stroke-linejoin="round"/>
<g font-weight="bold" font-size="57.8" text-anchor="middle" fill="#000">
<text transform="translate(276.7,291.9) scale(1,1.035)">Pro</text>
<text transform="translate(653.65,152.8) scale(1,1.035)">PLC</text>
<text transform="translate(1743.5,233.6) scale(1,1.035)">HSM</text>
<text transform="translate(1995.95,540.0) scale(1,1.035)">SOD</text>
<text transform="translate(2013.5,1189.0) scale(1,1.035)">Kh</text>
<text transform="translate(1414.9,1671.8) scale(1,1.035)">TLP</text>
<text transform="translate(941.6,1827.8) scale(1,1.035)">P50</text>
<text transform="translate(312.25,1209.0) scale(1,1.035)">MDA</text>
<text transform="translate(1007.55,878.8) scale(1,1.035)">Ci</text>
<text transform="translate(1320.4,947.6) scale(1,1.035)">RWC</text>
<text transform="translate(1198.95,1087.4) scale(1,1.035)">ETR</text>
<text transform="translate(1457.55,1124.4) scale(1,1.035)">SLA</text>
</g>
<circle cx="1526.5" cy="1111.2" r="18.6" fill="#c97e99"/>
<line x1="1185.5" y1="755.5" x2="604.6" y2="178.8" stroke="#7853a5" stroke-width="7.5"/>
<line x1="1185.5" y1="755.5" x2="1694" y2="258.8" stroke="#7853a5" stroke-width="7.5"/>
<line x1="1185.5" y1="755.5" x2="1947.2" y2="1160.1" stroke="#7853a5" stroke-width="7.5"/>
<line x1="1185.5" y1="755.5" x2="1411.9" y2="1607.8" stroke="#7853a5" stroke-width="7.5"/>
<line x1="1185.5" y1="755.5" x2="994.5" y2="1801.1" stroke="#7853a5" stroke-width="7.5"/>
<polygon points="604.6,178.8 615.3,218.4 644.2,189.3" fill="#7853a5" stroke="#7853a5" stroke-width="7.5" stroke-linejoin="round"/>
<polygon points="1694,258.8 1654.3,269 1682.9,298.3" fill="#7853a5" stroke="#7853a5" stroke-width="7.5" stroke-linejoin="round"/>
<polygon points="1947.2,1160.1 1925.4,1125.4 1906.2,1161.6" fill="#7853a5" stroke="#7853a5" stroke-width="7.5" stroke-linejoin="round"/>
<polygon points="1411.9,1607.8 1422.6,1568.2 1383,1578.7" fill="#7853a5" stroke="#7853a5" stroke-width="7.5" stroke-linejoin="round"/>
<polygon points="994.5,1801.1 1021,1769.9 980.7,1762.5" fill="#7853a5" stroke="#7853a5" stroke-width="7.5" stroke-linejoin="round"/>
<line x1="150.9" y1="755.5" x2="2146" y2="755.5" stroke="#000" stroke-width="7.1" stroke-dasharray="7.1 21.616"/>
<line x1="1185.5" y1="1886.2" x2="1185.5" y2="3.1" stroke="#000" stroke-width="7.1" stroke-dasharray="7.1 21.616"/>
<rect x="152.4" y="4.75" width="1991.6" height="1880.5" fill="none" stroke="#000" stroke-width="3.3"/>
<g stroke="#333" stroke-width="4.4">
<line x1="137.9" y1="71.1" x2="151" y2="71.1"/>
<line x1="137.9" y1="755.5" x2="151" y2="755.5"/>
<line x1="137.9" y1="1440.4" x2="151" y2="1440.4"/>
<line x1="654.0" y1="1887" x2="654.0" y2="1900"/>
<line x1="1185.2" y1="1887" x2="1185.2" y2="1900"/>
<line x1="1716.2" y1="1887" x2="1716.2" y2="1900"/>
</g>
<g font-size="77" fill="#000">
<text x="127" y="98" text-anchor="end">5</text>
<text x="127" y="782.5" text-anchor="end">0</text>
<text x="127" y="1467.5" text-anchor="end">-5</text>
<text x="654" y="1966" text-anchor="middle">-5</text>
<text x="1185.2" y="1966" text-anchor="middle">0</text>
<text x="1716.2" y="1966" text-anchor="middle">5</text>
</g>
<text transform="translate(1148.85,2053.9) scale(1,1.035)" font-size="76.8" font-weight="bold" text-anchor="middle">RDA1 (67.57%)</text>
<text transform="translate(58.9,944.3) rotate(-90) scale(1,1.035)" font-size="76.8" font-weight="bold" text-anchor="middle">RDA2 (19.88%)</text>
<text x="2181.5" y="669.1" font-size="76.4" font-weight="bold">Gradient</text>
<circle cx="2210.3" cy="744.5" r="18.6" fill="#bebebe"/>
<text transform="translate(2278.5,768.4) scale(1,1.035)" font-size="66.5">DS0</text>
<circle cx="2210.3" cy="827.5" r="18.6" fill="#eccae3"/>
<text transform="translate(2278.5,851.4) scale(1,1.035)" font-size="66.5">DS10</text>
<circle cx="2210.3" cy="910.6" r="18.6" fill="#dd9fbf"/>
<text transform="translate(2278.5,934.5) scale(1,1.035)" font-size="66.5">DS20</text>
<circle cx="2210.3" cy="993.6" r="18.6" fill="#c97e99"/>
<text transform="translate(2278.5,1017.5) scale(1,1.035)" font-size="66.5">DS30</text>
<circle cx="2210.3" cy="1076.7" r="18.6" fill="#b0607a"/>
<text transform="translate(2278.5,1100.6) scale(1,1.035)" font-size="66.5">DS40</text>
<circle cx="2210.3" cy="1159.8" r="18.6" fill="#993f5d"/>
<text transform="translate(2278.5,1183.7) scale(1,1.035)" font-size="66.5">DS50</text>
<circle cx="2210.3" cy="1242.8" r="18.6" fill="#efeaae"/>
<text transform="translate(2278.5,1266.7) scale(1,1.035)" font-size="66.5">RE10</text>
</svg></body></html>
